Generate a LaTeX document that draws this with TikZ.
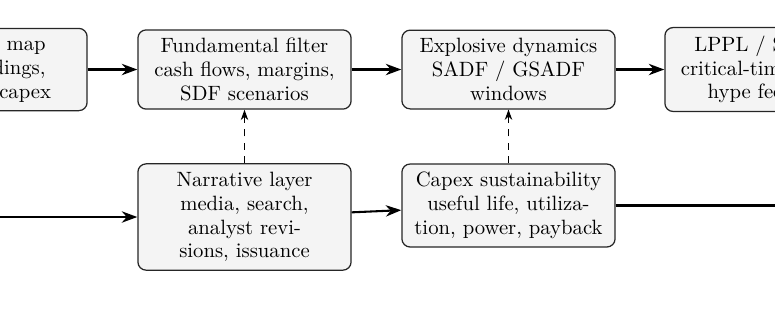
\documentclass[tikz,border=0pt]{standalone}
\usetikzlibrary{arrows.meta}
\begin{document}
\begin{tikzpicture}[x=0.4831pt,y=-0.4831pt,
  box/.style={draw=black!85, fill=gray!9, rounded corners=4pt, line width=0.6pt,
    align=center, text width=96pt, inner xsep=3.5pt, inner ysep=4pt,
    font=\fontsize{10}{11.5}\selectfont},
  flow/.style={line width=1pt, -{Stealth[length=7.5pt,width=5.5pt]}},
  link/.style={line width=1pt},
  feed/.style={line width=0.5pt, dash pattern=on 3.5pt off 3pt, -{Stealth[length=5pt,width=3.6pt]}}]
\useasboundingbox (0,0) rectangle (775,330);
\clip (0,0) rectangle (775,330);
\node[box] (expo) at (-19.5,69.5) {Exposure map\\ETF holdings,\\revenues, capex};
\node[box] (fund) at (244.5,69.5) {Fundamental filter\\cash flows, margins,\\SDF scenarios};
\node[box] (expl) at (508.5,69.5) {Explosive dynamics\\SADF / GSADF\\windows};
\node[box] (lppl) at (771.5,69.5) {LPPL / Sornette\\critical-time bounds\\hype feedback};
\node[box] (narr) at (244.5,217) {Narrative layer\\media, search,\\analyst revi-\\sions, issuance};
\node[box] (capx) at (508.5,205.5) {Capex sustainability\\useful life, utiliza-\\tion, power, payback};
\coordinate (src) at (-60,217);
\coordinate (dst) at (820,205.5);
\draw[flow] (expo) -- (fund);
\draw[flow] (fund) -- (expl);
\draw[flow] (expl) -- (lppl);
\draw[flow] (src) -- (narr);
\draw[flow] (narr) -- (capx);
\draw[link] (capx) -- (dst);
\draw[feed] (narr) -- (fund);
\draw[feed] (capx) -- (expl);
\end{tikzpicture}
\end{document}
